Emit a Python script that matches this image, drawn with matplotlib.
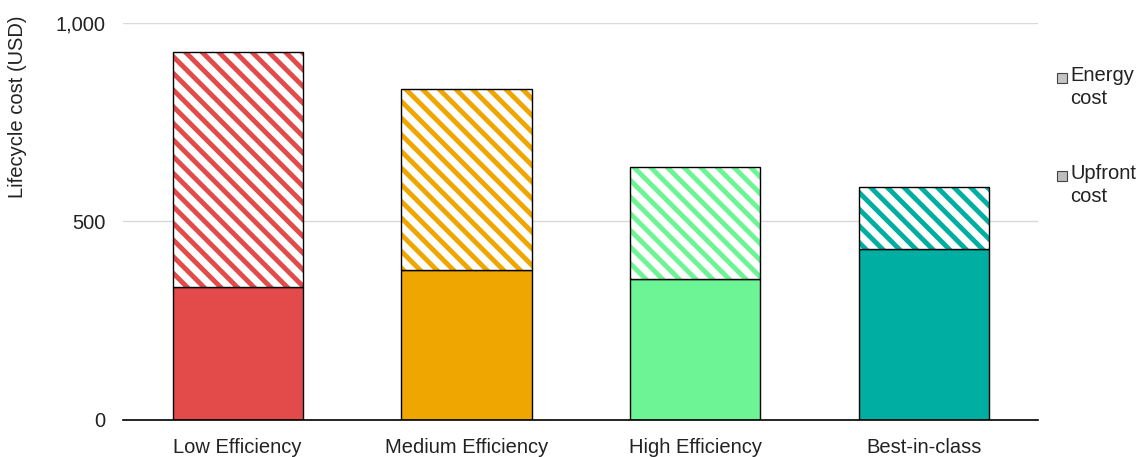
import matplotlib.pyplot as plt
from matplotlib.patches import Rectangle

plt.rcParams['font.family'] = ['Liberation Sans', 'DejaVu Sans']
plt.rcParams['hatch.linewidth'] = 3.5

# data
categories = ["Low Efficiency", "Medium Efficiency", "High Efficiency", "Best-in-class"]
upfront = [335, 378, 355, 431]
energy = [592, 456, 282, 156]
colors = ["#E34B4B", "#F0A600", "#6CF495", "#00AFA2"]
legend_labels = ["Energy\ncost", "Upfront\ncost"]

fig = plt.figure(figsize=(11.42, 4.57), dpi=100)
ax = fig.add_axes([0.108, 0.081, 0.801, 0.869])

x = range(len(categories))
w = 0.57

ax.bar(x, upfront, width=w, color=colors, edgecolor="black", linewidth=1, zorder=3)
# hatched energy part: hatch takes the edge colour, so draw outline separately
for i in x:
    ax.bar(i, energy[i], bottom=upfront[i], width=w, color="white",
           edgecolor=colors[i], hatch="\\\\", linewidth=0, zorder=3)
    ax.bar(i, energy[i], bottom=upfront[i], width=w, fill=False,
           edgecolor="black", linewidth=1, zorder=4)

ax.set_xlim(-0.5, 3.5)
ax.set_ylim(0, 1000)
ax.set_yticks([0, 500, 1000])
ax.set_yticklabels(["0", "500", "1,000"])
ax.set_xticks(list(x))
ax.set_xticklabels(categories)
ax.tick_params(axis="both", length=0, labelsize=14.5, colors="#222222")
ax.tick_params(axis="y", pad=13)
ax.tick_params(axis="x", pad=13)
ax.grid(axis="y", color="#d9d9d9", linewidth=1, zorder=0)

for s in ["top", "right", "left"]:
    ax.spines[s].set_visible(False)
ax.spines["bottom"].set_color("black")
ax.spines["bottom"].set_linewidth(1.2)
ax.spines["bottom"].set_zorder(5)

fig.text(18 / 1142, 1 - 107 / 457, "Lifecycle cost (USD)", rotation=90,
         ha="center", va="center", fontsize=14.5, color="#222222")

# legend drawn by hand so the swatch sits beside the first text line
W, H = 1142, 457
for k, (lab, ytop) in enumerate(zip(legend_labels, [66, 164])):
    sw = Rectangle((1057 / W, 1 - (ytop + 17) / H), 10 / W, 10 / H,
                   transform=fig.transFigure,
                   facecolor="#c4c4c4" if k == 0 else "#bdbdbd",
                   edgecolor="#444444", linewidth=0.8)
    fig.add_artist(sw)
    fig.text(1070 / W, 1 - ytop / H, lab, ha="left", va="top",
             fontsize=14.5, color="#222222", linespacing=1.3)

fig.savefig("out.png", dpi=100)
